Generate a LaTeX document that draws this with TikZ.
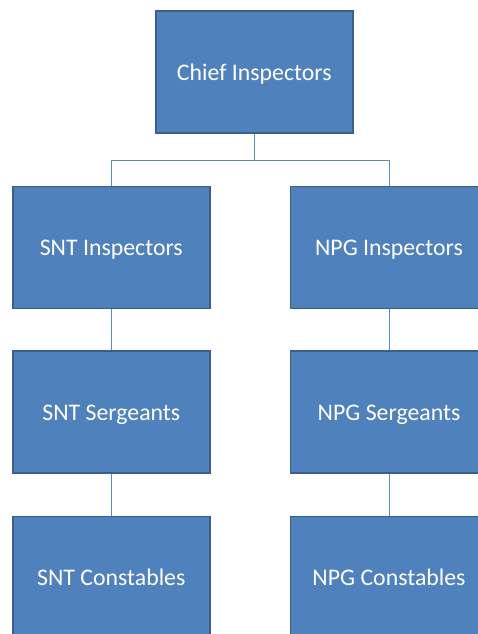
\documentclass[tikz,border=0pt]{standalone}
\usepackage{fontspec}
\setmainfont{Carlito}
\definecolor{boxfill}{HTML}{4F81BD}
\definecolor{boxline}{HTML}{3A5F8B}
\definecolor{conn}{HTML}{5B8AC4}
\newcommand{\lowtext}[1]{\smash{\raisebox{-8pt}{#1}}}
\begin{document}
\begin{tikzpicture}[x=1pt,y=-1pt,
  orgbox/.style={draw=boxline,line width=1.8pt,fill=boxfill,text=white,
    minimum width=197pt,minimum height=122pt,inner sep=0pt,font=\fontsize{23.8}{28}\selectfont},
  link/.style={draw=conn,line width=0.9pt}]
\useasboundingbox (0,0) rectangle (478,634);
\clip (0,0) rectangle (478,634);
\node[orgbox] (chief) at (254.3,72.3) {\lowtext{Chief Inspectors}};
\node[orgbox] (snti) at (111.3,247.5) {\lowtext{SNT Inspectors}};
\node[orgbox] (npgi) at (389,247.5) {\lowtext{NPG Inspectors}};
\node[orgbox] (snts) at (111.3,412) {\lowtext{SNT Sergeants}};
\node[orgbox] (npgs) at (389,412) {\lowtext{NPG Sergeants}};
\node[orgbox] (sntc) at (111.3,577.5) {\lowtext{SNT Constables}};
\node[orgbox] (npgc) at (389,577.5) {\lowtext{NPG Constables}};
\coordinate (mid) at (254.3,160);
\draw[link] (chief.south) -- (mid);
\draw[link] (mid) -| (snti.north);
\draw[link] (mid) -| (npgi.north);
\draw[link] (snti) -- (snts);
\draw[link] (npgi) -- (npgs);
\draw[link] (snts) -- (sntc);
\draw[link] (npgs) -- (npgc);
\end{tikzpicture}
\end{document}
